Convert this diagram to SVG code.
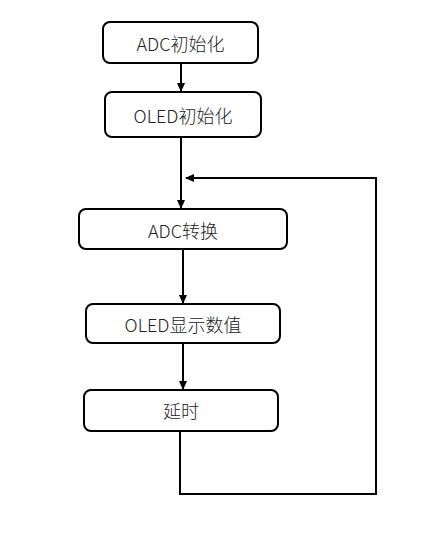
<svg xmlns="http://www.w3.org/2000/svg" width="428" height="551" viewBox="0 0 428 551">
<style>
.box{fill:#fff;stroke:#000;stroke-width:2}
.lbl{font-family:"Noto Sans CJK SC","Open Sans",sans-serif;font-size:18px;font-weight:300;fill:#222;text-anchor:middle;dominant-baseline:central}
.ln{fill:none;stroke:#000;stroke-width:2}
</style>
<defs>
<marker id="ah" markerWidth="10" markerHeight="10" refX="8" refY="5" orient="auto" markerUnits="userSpaceOnUse">
<path d="M0,1 L9,5 L0,9 Z" fill="#000"/>
</marker>
</defs>
<rect width="428" height="551" fill="#fff"/>
<g id="connectors">
<path class="ln" d="M181,63 V91" marker-end="url(#ah)"/>
<path class="ln" d="M181,137 V208" marker-end="url(#ah)"/>
<path class="ln" d="M183,249 V303" marker-end="url(#ah)"/>
<path class="ln" d="M183,343 V389" marker-end="url(#ah)"/>
<path class="ln" d="M180,431 V494 H376 V178 H186" marker-end="url(#ah)"/>
</g>
<g id="n1"><rect class="box" x="103" y="22" width="155" height="41" rx="7"/><text class="lbl" x="180.5" y="43">ADC初始化</text></g>
<g id="n2"><rect class="box" x="105" y="92" width="156" height="45" rx="7"/><text class="lbl" x="183" y="115">OLED初始化</text></g>
<g id="n3"><rect class="box" x="79" y="209" width="208" height="40" rx="7"/><text class="lbl" x="183" y="230">ADC转换</text></g>
<g id="n4"><rect class="box" x="86" y="304" width="194" height="39" rx="7"/><text class="lbl" x="183" y="324">OLED显示数值</text></g>
<g id="n5"><rect class="box" x="84" y="390" width="194" height="41" rx="7"/><text class="lbl" x="181" y="410">延时</text></g>
</svg>
